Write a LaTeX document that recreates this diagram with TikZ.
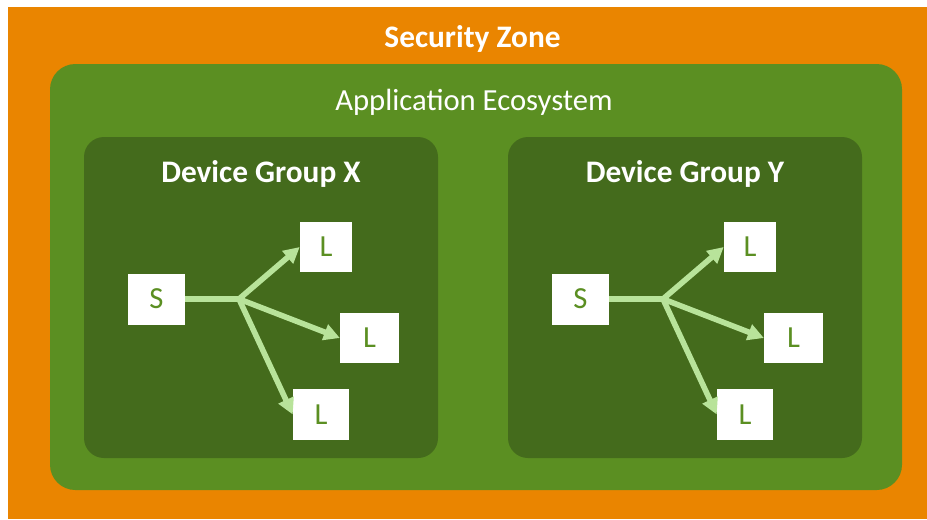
\documentclass[tikz,border=0pt]{standalone}
\usepackage{fontspec}
\setmainfont{Carlito}
\usetikzlibrary{arrows.meta}
\definecolor{zone}{HTML}{EA8500}
\definecolor{eco}{HTML}{5B8F22}
\definecolor{grp}{HTML}{446B1C}
\definecolor{flow}{HTML}{B8E39A}
\tikzset{
  zonebox/.style={fill=zone},
  ecobox/.style={fill=eco, rounded corners=19pt},
  grpbox/.style={fill=grp, rounded corners=15pt},
  title/.style={text=white, anchor=base, inner sep=0pt, font=\fontsize{23.5}{28}\selectfont\bfseries},
  subtitle/.style={text=white, anchor=base, inner sep=0pt, font=\fontsize{23}{28}\selectfont},
  dev/.style={fill=white, text=eco, inner sep=0pt, font=\fontsize{23}{26}\selectfont},
  link/.style={draw=flow, line width=4.2pt},
  linkarrow/.style={draw=flow, line width=4.2pt, -{Triangle[length=12pt,width=12pt]}}
}
\begin{document}
\begin{tikzpicture}[x=0.75pt,y=-0.75pt]
\useasboundingbox (0,0) rectangle (927,519);
\fill[zonebox] (8,7) rectangle (927,519);
\node[title] (zt) at (472.5,47) {Security Zone};
\fill[ecobox] (50,64) rectangle (902,490);
\node[subtitle] (et) at (474,110) {Application Ecosystem};
\foreach \g/\dx in {X/0,Y/424}{
  \begin{scope}[xshift=\dx*0.75pt]
    \fill[grpbox] (84,137) rectangle (438,458);
    \node[title] (t\g) at (261,182) {Device Group \g};
    \node[dev, minimum width=42.75pt, minimum height=38.25pt] (S\g) at (156.5,299) {S};
    \node[dev, minimum width=39pt, minimum height=37.5pt] (La\g) at (326,247) {L};
    \node[dev, minimum width=44pt, minimum height=37.5pt] (Lb\g) at (369.5,338) {L};
    \node[dev, minimum width=42pt, minimum height=38.25pt] (Lc\g) at (321,414.5) {L};
    \coordinate (B\g) at (239,299);
    \draw[link] (S\g.east) -- (B\g);
    \draw[linkarrow] (B\g) -- (La\g.west);
    \draw[linkarrow] (B\g) -- (Lb\g.west);
    \draw[linkarrow] (B\g) -- (Lc\g.west);
  \end{scope}
}
\end{tikzpicture}
\end{document}
